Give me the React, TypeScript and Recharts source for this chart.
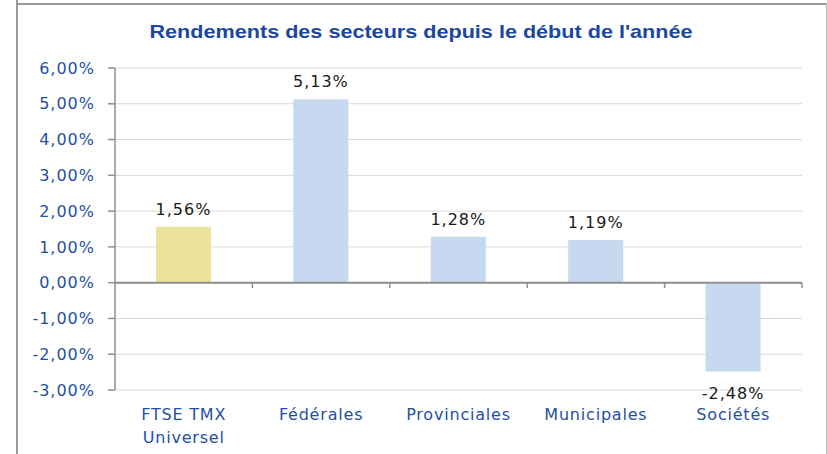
import { BarChart, Bar, XAxis, YAxis, CartesianGrid, ReferenceLine, Cell, LabelList } from 'recharts';

const categories = ['FTSE TMX\nUniversel', 'Fédérales', 'Provinciales', 'Municipales', 'Sociétés'];
const returns = [1.56, 5.13, 1.28, 1.19, -2.48];
const barColors = ['#EBE39B', '#C6D9F0', '#C6D9F0', '#C6D9F0', '#C6D9F0'];
const yTicks = [-3, -2, -1, 0, 1, 2, 3, 4, 5, 6];

const data = categories.map((name, i) => ({ name, value: returns[i] }));

// small ticks under the zero line sit on the category boundaries
const boundaryTicks = [
  ...categories.slice(1).map((c) => ({ cat: c, pos: 'start' as const })),
  { cat: categories[categories.length - 1], pos: 'end' as const },
];

const BLUE = '#1F4FA6';
const AXIS = '#8E8E8E';
const FONT = '"DejaVu Sans", Verdana, sans-serif';

const fmt = (v: number) => v.toFixed(2).replace('.', ',') + '%';

const CategoryTick = ({ x, y, payload }: { x?: number; y?: number; payload?: { value: string } }) => {
  const lines = String(payload?.value ?? '').split('\n');
  return (
    <text x={x} y={y} textAnchor="middle" fill={BLUE} fontSize={16} letterSpacing={0.8} fontFamily={FONT}>
      {lines.map((l, i) => (
        <tspan key={i} x={x} dy={i === 0 ? 22 : 23}>{l}</tspan>
      ))}
    </text>
  );
};

const ValueLabel = (props: { x?: number; y?: number; width?: number; height?: number; value?: number }) => {
  const { x = 0, y = 0, width = 0, height = 0, value = 0 } = props;
  const top = Math.min(y, y + height);
  const bottom = Math.max(y, y + height);
  const ty = value < 0 ? bottom + 28 : top - 12;
  return (
    <text x={x + width / 2} y={ty} textAnchor="middle" fill="#1a1a1a" fontSize={16} letterSpacing={1} fontFamily={FONT}>
      {fmt(value)}
    </text>
  );
};

export default function App() {
  return (
    <div style={{ position: 'absolute', left: 0, top: 0, width: 827, height: 454, background: '#fff' }}>
      {/* frame */}
      <div style={{ position: 'absolute', left: 16, top: 0, width: 2, height: 454, background: '#9A9A9A' }} />
      <div style={{ position: 'absolute', left: 17, top: 3, width: 810, height: 2, background: '#9A9A9A' }} />
      <div style={{ position: 'absolute', left: 826, top: 3, width: 1, height: 451, background: '#B5B5B5' }} />

      <svg width={827} height={60} style={{ position: 'absolute', left: 0, top: 0 }}>
        <text x={421} y={38} textAnchor="middle" fill="#1A47A3" fontSize={19} fontWeight={700}
          fontFamily='"Liberation Sans", Arial, sans-serif' textLength={543} lengthAdjust="spacingAndGlyphs">
          Rendements des secteurs depuis le début de l'année
        </text>
      </svg>

      <div style={{ position: 'absolute', left: 0, top: 0 }}>
        <BarChart width={827} height={454} data={data} margin={{ top: 68, right: 25, bottom: 0, left: 0 }}>
          <CartesianGrid vertical={false} stroke="#D9D9D9" />
          <XAxis dataKey="name" height={64} axisLine={false} tickLine={false} interval={0} tick={<CategoryTick />} />
          <YAxis
            width={115}
            domain={[-3, 6]}
            ticks={yTicks}
            interval={0}
            tickFormatter={fmt}
            stroke={AXIS}
            strokeWidth={1.5}
            tickSize={7}
            tickMargin={13}
            tick={{ fill: BLUE, fontSize: 16, fontFamily: FONT, letterSpacing: 1 }}
          />
          <ReferenceLine y={0} stroke={AXIS} strokeWidth={2} />
          {boundaryTicks.map((b) => (
            <ReferenceLine key={b.cat + b.pos} stroke={AXIS} strokeWidth={1.5} position={b.pos}
              segment={[{ x: b.cat, y: 0 }, { x: b.cat, y: -0.15 }]} />
          ))}
          <Bar dataKey="value" barSize={55} isAnimationActive={false}>
            {data.map((d, i) => <Cell key={d.name} fill={barColors[i]} />)}
            <LabelList dataKey="value" content={<ValueLabel />} />
          </Bar>
        </BarChart>
      </div>
    </div>
  );
}
